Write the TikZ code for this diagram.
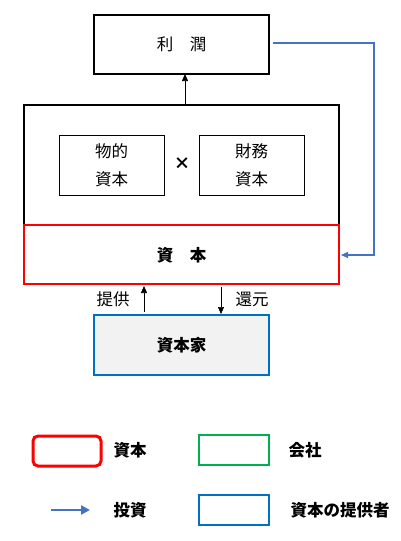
\documentclass[tikz,border=0pt]{standalone}
\usepackage{fontspec}
\setmainfont{Noto Sans CJK JP}
\usetikzlibrary{arrows.meta}
\definecolor{invblue}{HTML}{4472C4}
\definecolor{provblue}{HTML}{0070C0}
\definecolor{compgreen}{HTML}{00B050}
\definecolor{capfill}{HTML}{F2F2F2}
\tikzset{
  txt/.style={font=\fontsize{16.5}{19}\selectfont, inner sep=0pt},
  btxt/.style={font=\fontsize{16.5}{19}\selectfont\bfseries, inner sep=0pt},
  blk/.style={-{Triangle[length=7pt,width=6pt]}, line width=0.7pt},
}
\begin{document}
\begin{tikzpicture}[x=1pt,y=-1pt]
\useasboundingbox (0,0) rectangle (401,541);
% profit box
\draw[line width=1.6pt] (94,15) rectangle (269,74);
\node[txt] (profit) at (181.5,44.5) {利\hspace{1em}潤};
\coordinate (profitbot) at (185,74);
\coordinate (profitright) at (273,43);
% big box
\draw[line width=1.6pt] (24,225) -- (24,105) -- (339,105) -- (339,225);
\coordinate (bigtop) at (185,105);
\draw[line width=0.7pt] (59,135) rectangle (164,195);
\draw[line width=0.7pt] (199,135) rectangle (304,195);
\node[txt, align=center] (phys) at (111.5,165) {物的\\[9pt]資本};
\node[txt, align=center] (fin) at (251.5,165) {財務\\[9pt]資本};
\node[btxt] (times) at (182,164) {×};
% capital red box
\draw[red, line width=1.6pt] (24,225) rectangle (339,284);
\node[btxt] (capital) at (181.5,255) {資\hspace{1em}本};
\coordinate (capright) at (341,255);
% arrow up
\draw[blk] (bigtop) -- (profitbot);
% blue investment arrow
\draw[invblue, line width=1.2pt, -{Triangle[length=7pt,width=6pt]}] (profitright) -- (374,43) -- (374,255) -- (capright);
% capitalist box
\draw[provblue, fill=capfill, line width=1.6pt] (94,315) rectangle (269,375);
\node[btxt] (capitalist) at (181.5,345) {資本家};
% provide / return arrows
\coordinate (provS) at (144,312);
\coordinate (provE) at (144,286);
\coordinate (retS) at (221,287);
\coordinate (retE) at (221,314);
\draw[blk] (provS) -- (provE);
\draw[blk] (retS) -- (retE);
\node[txt] (provide) at (113,299) {提供};
\node[txt] (return) at (252,299) {還元};
% legend
\draw[red, line width=3pt, rounded corners=5pt] (33,436) rectangle (101,466);
\node[btxt] (lcap) at (130,450) {資本};
\draw[compgreen, line width=1.4pt] (199,435) rectangle (269,465);
\node[btxt] (lcomp) at (305,450) {会社};
\coordinate (la) at (51,510);
\coordinate (lb) at (90,510);
\draw[invblue, line width=2.4pt, -{Triangle[length=9pt,width=9pt]}] (la) -- (lb);
\node[btxt] (linv) at (130,510) {投資};
\draw[provblue, line width=1.4pt] (199,495) rectangle (269,525);
\node[btxt] (lprov) at (340,510) {資本の提供者};
\end{tikzpicture}
\end{document}
